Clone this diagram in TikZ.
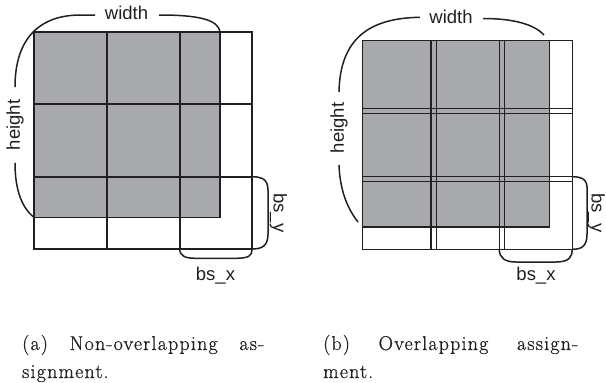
\documentclass[tikz,border=0pt]{standalone}
\usepackage{fontspec}
\newfontfamily\labelfont{Liberation Sans}
\newfontfamily\capfont[FakeBold=0.8,LetterSpace=6]{Latin Modern Roman}
\definecolor{ink}{RGB}{35,31,32}
\definecolor{tilegray}{RGB}{167,169,172}
\begin{document}
\begin{tikzpicture}[x=1pt,y=-1pt,
  gridline/.style={line width=1.8pt, draw=ink},
  thingrid/.style={line width=1.5pt, draw=ink},
  shadeedge/.style={line width=1.4pt, draw=ink},
  brace/.style={line width=1.5pt, draw=ink},
  lbl/.style={font=\labelfont\fontsize{18.5}{20}\selectfont, inner sep=0pt, text=ink},
  captext/.style={font=\capfont\fontsize{20}{22}\selectfont, inner sep=0pt, anchor=base west, text=ink}]
\useasboundingbox (0,0) rectangle (606,383);

% ---------- (a) non-overlapping ----------
\fill[tilegray] (34,31.7) rectangle (220,217.3);
\draw[shadeedge] (220,31.7) -- (220,217.3) -- (34,217.3);
\draw[gridline] (34,31.7) rectangle (252,249);
\foreach \x in {106.7,179.7} \draw[gridline] (\x,31.7) -- (\x,249);
\foreach \y in {104,176.7} \draw[gridline] (34,\y) -- (252,\y);

\node[lbl] (wa) at (126.5,13) {width};
\node[lbl, rotate=90] (ha) at (15,125) {height};
\node[lbl, rotate=-90] (bya) at (278.5,213) {bs\_y};
\node[lbl, anchor=base] (bxa) at (215.5,280) {bs\_x};

\draw[brace] (95,15) -- (82,15) .. controls (40,14.5) and (15,38) .. (15,87);
\draw[brace] (159,15) .. controls (200,15) and (218,20) .. (220,31.7);
\draw[brace] (15,163) .. controls (15,190) and (22,208) .. (34,217.3);
\draw[brace] (252,176.7) .. controls (270,176.7) and (268,186) .. (268,200) -- (268,234) .. controls (268,246) and (262,249) .. (252,249);
\draw[brace] (179.7,249) .. controls (180,256) and (185,258.3) .. (196,258.3) -- (236,258.3) .. controls (250,258.3) and (252,255) .. (252,249);

% ---------- (b) overlapping ----------
\fill[tilegray] (362.7,40.7) rectangle (549.3,227);
\draw[shadeedge] (549.3,40.7) -- (549.3,227) -- (362.7,227);
\foreach \xa/\xb in {362.7/436.3, 431/504.3, 499.3/572.3}
  \foreach \ya/\yb in {40.7/113.3, 108.3/181.7, 176.7/249.3}
    \draw[thingrid] (\xa,\ya) rectangle (\xb,\yb);

\node[lbl] (wb) at (451,16.5) {width};
\node[lbl, rotate=90] (hb) at (339,128) {height};
\node[lbl, rotate=-90] (byb) at (596.5,213) {bs\_y};
\node[lbl, anchor=base] (bxb) at (536,280) {bs\_x};

\draw[brace] (420,17.3) .. controls (370,18) and (340,38) .. (339,92);
\draw[brace] (483,18.5) .. controls (515,18.5) and (535,25) .. (544,35);
\draw[brace] (339,165) .. controls (340,190) and (347,208) .. (358,222);
\draw[brace] (572.3,176.7) .. controls (590,176.7) and (587,186) .. (587,200) -- (587,234) .. controls (587,246) and (582,249.3) .. (572.3,249.3);
\draw[brace] (499.3,249.3) .. controls (499.3,258) and (505,262) .. (516,262) -- (556,262) .. controls (570,262) and (572.3,256) .. (572.3,249.3);

% ---------- captions ----------
\node[captext] (capa1) at (22,350) {\makebox[242pt][s]{(a)\hfill Non-overlapping\hfill as-}};
\node[captext] (capa2) at (22,378) {signment\kern1pt.};
\node[captext] (capb1) at (323,350) {\makebox[255pt][s]{(b)\hfill Overlapping\hfill assign-}};
\node[captext] (capb2) at (323,378) {ment\kern1pt.};
\end{tikzpicture}
\end{document}
